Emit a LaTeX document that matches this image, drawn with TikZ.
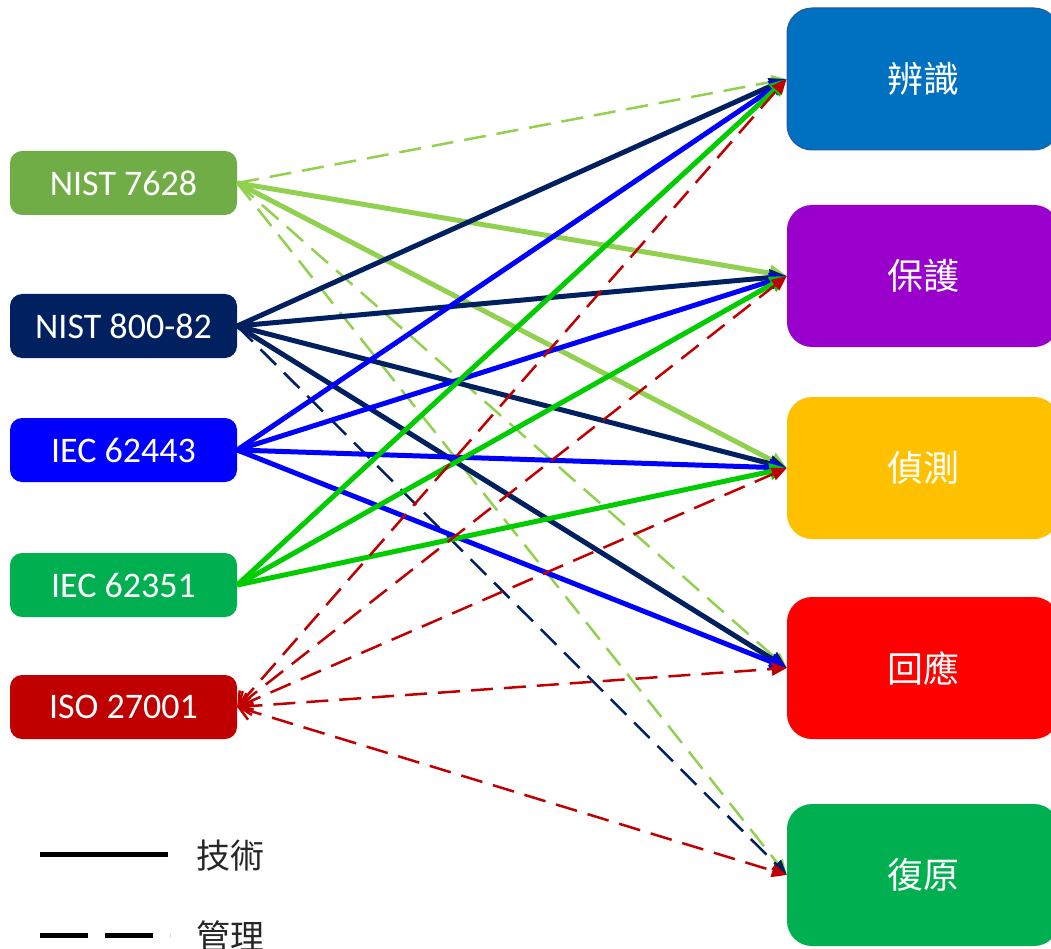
\documentclass[tikz,border=0pt]{standalone}
\usepackage{fontspec}
\setmainfont{Carlito}
\newfontfamily\cjk{Noto Sans CJK TC}
\usetikzlibrary{arrows.meta}

\definecolor{lgreen}{HTML}{92D050}
\definecolor{boxlgreen}{HTML}{70AD47}
\definecolor{navy}{HTML}{002060}
\definecolor{pureblue}{HTML}{0000FF}
\definecolor{lgreenline}{HTML}{00CC00}
\definecolor{boxgreen}{HTML}{00B050}
\definecolor{darkred}{HTML}{C00000}
\definecolor{idblue}{HTML}{0070C0}
\definecolor{idborder}{HTML}{2F5597}
\definecolor{prpurple}{HTML}{9900CC}
\definecolor{dtyellow}{HTML}{FFC000}
\definecolor{rsred}{HTML}{FF0000}

\begin{document}
\begin{tikzpicture}[
  x=1pt, y=-1pt,
  every node/.style={inner sep=0pt},
  lbox/.style={rectangle, rounded corners=12pt, minimum width=227pt, minimum height=64pt,
    text=white, font=\fontsize{36}{40}\selectfont},
  rbox/.style={rectangle, rounded corners=25pt, minimum width=272pt, minimum height=142pt,
    text=white, font=\cjk\fontsize{36}{40}\selectfont},
  legend/.style={font=\cjk\fontsize{34}{40}\selectfont, text=black!85},
  arrow/.style={draw, line width=5pt, -{Triangle[length=17pt, width=16pt]}},
  darrow/.style={draw, line width=2.5pt, dash pattern=on 22pt off 11pt,
    -{Triangle[length=15pt, width=13pt]}},
  barrow/.style={draw, line width=2.5pt, dash pattern=on 22pt off 11pt,
    {Straight Barb[length=12pt, width=18pt, line width=2.5pt]}-{Triangle[length=15pt, width=13pt]}}]

  \useasboundingbox (0,0) rectangle (1051,949);
  \clip (0,0) rectangle (1051,949);

  % standards
  \node[lbox, fill=boxlgreen] (N7628)  at (123.5,183) {NIST 7628};
  \node[lbox, fill=navy]      (N80082) at (123.5,326) {NIST 800-82};
  \node[lbox, fill=pureblue]  (I62443) at (123.5,450) {IEC 62443};
  \node[lbox, fill=boxgreen]  (I62351) at (123.5,585) {IEC 62351};
  \node[lbox, fill=darkred]   (ISO)    at (123.5,707) {ISO 27001};

  % functions
  \node[rbox, fill=idblue, draw=idborder, line width=1pt] (ID) at (923,79)  {辨識};
  \node[rbox, fill=prpurple] (PR) at (923,276) {保護};
  \node[rbox, fill=dtyellow] (DT) at (923,468) {偵測};
  \node[rbox, fill=rsred]    (RS) at (923,668) {回應};
  \node[rbox, fill=boxgreen] (RC) at (923,875) {復原};

  % NIST 7628
  \draw[darrow, lgreen] (N7628.east) -- (ID.west);
  \draw[darrow, lgreen] (N7628.east) -- (RS.west);
  \draw[darrow, lgreen] (N7628.east) -- (RC.west);
  \draw[arrow, lgreen]  (N7628.east) -- (PR.west);
  \draw[arrow, lgreen]  (N7628.east) -- (DT.west);

  % NIST 800-82
  \draw[darrow, navy] (N80082.east) -- (RC.west);
  \draw[arrow, navy]  (N80082.east) -- (ID.west);
  \draw[arrow, navy]  (N80082.east) -- (PR.west);
  \draw[arrow, navy]  (N80082.east) -- (DT.west);
  \draw[arrow, navy]  (N80082.east) -- (RS.west);

  % IEC 62443
  \draw[arrow, pureblue] (I62443.east) -- (ID.west);
  \draw[arrow, pureblue] (I62443.east) -- (PR.west);
  \draw[arrow, pureblue] (I62443.east) -- (DT.west);
  \draw[arrow, pureblue] (I62443.east) -- (RS.west);

  % IEC 62351
  \draw[arrow, lgreenline] (I62351.east) -- (ID.west);
  \draw[arrow, lgreenline] (I62351.east) -- (PR.west);
  \draw[arrow, lgreenline] (I62351.east) -- (DT.west);

  % ISO 27001
  \draw[barrow, darkred] (ISO.east) -- (ID.west);
  \draw[barrow, darkred] (ISO.east) -- (PR.west);
  \draw[barrow, darkred] (ISO.east) -- (DT.west);
  \draw[barrow, darkred] (ISO.east) -- (RS.west);
  \draw[barrow, darkred] (ISO.east) -- (RC.west);

  % legend
  \coordinate (tA) at (40,854);
  \coordinate (tB) at (168,854);
  \coordinate (mA) at (40,935);
  \coordinate (mB) at (170,935);
  \draw[line width=5pt, black] (tA) -- (tB);
  \draw[line width=5pt, black, dash pattern=on 48pt off 17pt] (mA) -- (mB);
  \node[legend] (tech) at (230,856) {技術};
  \node[legend] (mgmt) at (230,936) {管理};

\end{tikzpicture}
\end{document}
